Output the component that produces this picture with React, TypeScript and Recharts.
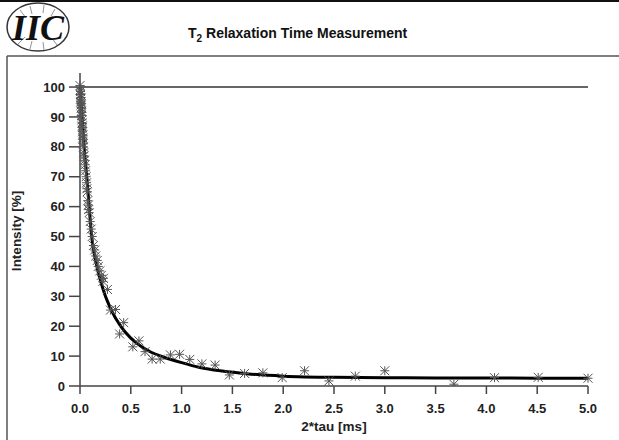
import React from "react";
import { ComposedChart, Scatter, Line, XAxis, YAxis, ReferenceLine } from "recharts";

// measured echo amplitudes (x = 2*tau in ms, y = intensity in %)
const tauMs = [
  0.0, 0.002, 0.004, 0.005, 0.006, 0.008, 0.009, 0.01, 0.012, 0.013, 0.014, 0.016,
  0.018, 0.019, 0.02, 0.022, 0.024, 0.025, 0.027, 0.028, 0.03, 0.032, 0.034, 0.036,
  0.038, 0.045, 0.05, 0.055, 0.06, 0.065, 0.068, 0.072, 0.077, 0.082, 0.085, 0.09,
  0.1, 0.11, 0.12, 0.132, 0.145, 0.155, 0.17, 0.18, 0.195, 0.21, 0.225, 0.23, 0.27,
  0.3, 0.35, 0.39, 0.43, 0.52, 0.58, 0.64, 0.71, 0.79, 0.89, 0.98, 1.08, 1.2, 1.33,
  1.47, 1.62, 1.8, 1.99, 2.21, 2.45, 2.71, 3.0, 3.68, 4.08, 4.51, 5.0,
];
const intensity = [
  100.5, 99, 97.5, 98.5, 96, 95, 96.5, 94, 93, 94.5, 92, 90.5,
  91.5, 89, 88, 87, 86.5, 85, 84, 83, 82.5, 81, 80, 78,
  77, 75.5, 74, 72, 70, 68, 66, 65, 62, 60.5, 59, 58,
  55, 52.5, 50, 47, 45.5, 43.5, 42, 40, 38.5, 37, 35, 36, 32.3,
  25.4, 25.6, 17.4, 21.2, 13.1, 15.1, 11.5, 9.0, 9.0, 10.4, 10.6, 8.9, 7.4, 7.0,
  3.7, 4.2, 4.4, 2.8, 5.1, 1.7, 3.3, 5.1, 0.6, 2.8, 2.9, 2.6,
];

// fitted decay curve
const fitTau = [
  0, 0.02, 0.04, 0.066, 0.09, 0.115, 0.16, 0.2, 0.24, 0.3, 0.4, 0.5, 0.6, 0.7,
  0.82, 1.0, 1.18, 1.4, 1.64, 2.0, 2.5, 3.0, 3.5, 4.0, 4.5, 5.0,
];
const fitIntensity = [
  100, 90, 80, 70, 60, 50, 41, 35.5, 31, 26, 20, 16, 13.3, 11.3,
  9.7, 7.8, 6.2, 5.0, 4.1, 3.3, 2.9, 2.8, 2.7, 2.7, 2.6, 2.6,
];

const xTicks = [0, 0.5, 1, 1.5, 2, 2.5, 3, 3.5, 4, 4.5, 5];
const yTicks = [0, 10, 20, 30, 40, 50, 60, 70, 80, 90, 100];

const points = tauMs.map((x, i) => ({ x, v: intensity[i] }));
const fit = fitTau.map((x, i) => ({ x, v: fitIntensity[i] }));

const FONT = '"Liberation Sans", Arial, sans-serif';
const AXIS = "#444";

function Asterisk(props: any) {
  const { cx, cy } = props;
  if (cx == null || cy == null) return null;
  const r = 4.5;
  return (
    <g stroke="#555" strokeWidth={1}>
      <line x1={cx - r} y1={cy - r} x2={cx + r} y2={cy + r} />
      <line x1={cx - r} y1={cy + r} x2={cx + r} y2={cy - r} />
      <line x1={cx - r} y1={cy} x2={cx + r} y2={cy} />
      <line x1={cx} y1={cy - r} x2={cx} y2={cy + r} />
    </g>
  );
}

function Logo() {
  return (
    <g>
      <ellipse cx={38} cy={27} rx={31} ry={24} fill="none" stroke="#333" strokeWidth={1.5} />
      <g stroke="#777" strokeWidth={0.8}>
        <line x1={20} y1={10} x2={26} y2={18} />
        <line x1={30} y1={6} x2={32} y2={14} />
        <line x1={44} y1={5} x2={43} y2={13} />
        <line x1={55} y1={9} x2={51} y2={16} />
        <line x1={18} y1={44} x2={25} y2={37} />
        <line x1={30} y1={49} x2={32} y2={41} />
        <line x1={44} y1={50} x2={43} y2={42} />
        <line x1={57} y1={45} x2={52} y2={38} />
      </g>
      <text
        x={38}
        y={40}
        textAnchor="middle"
        fontFamily='"Liberation Serif", "DejaVu Serif", serif'
        fontStyle="italic"
        fontWeight="bold"
        fontSize={36}
        fill="#111"
      >
        IIC
      </text>
    </g>
  );
}

export default function App() {
  return (
    <div style={{ position: "absolute", left: 0, top: 0, width: 619, height: 440, background: "#fff" }}>
      <ComposedChart
        width={619}
        height={440}
        margin={{ top: 73, right: 31, bottom: 0, left: 0 }}
        style={{ fontFamily: FONT }}
      >
        <XAxis
          dataKey="x"
          type="number"
          domain={[0, 5]}
          ticks={xTicks}
          tickFormatter={(v: number) => v.toFixed(1)}
          tickSize={8}
          tickMargin={10}
          height={54}
          axisLine={{ stroke: AXIS, strokeWidth: 1.5 }}
          tickLine={{ stroke: AXIS, strokeWidth: 1.5 }}
          tick={{ fontSize: 13, fontWeight: "bold", fill: "#222", fontFamily: FONT }}
          label={{
            value: "2*tau [ms]",
            position: "insideBottom",
            offset: 9,
            style: { fontSize: 13.5, fontWeight: "bold", fill: "#222", fontFamily: FONT },
          }}
        />
        <YAxis
          type="number"
          domain={[0, 104.7]}
          ticks={yTicks}
          width={80}
          tickSize={11}
          tickMargin={4}
          allowDataOverflow
          axisLine={{ stroke: AXIS, strokeWidth: 1.5 }}
          tickLine={{ stroke: AXIS, strokeWidth: 1.5 }}
          tick={{ fontSize: 13, fontWeight: "bold", fill: "#222", fontFamily: FONT }}
        />
        <ReferenceLine y={100} stroke="#333" strokeWidth={1.5} />
        <Scatter data={points} dataKey="v" shape={<Asterisk />} isAnimationActive={false} />
        <Line
          data={fit}
          dataKey="v"
          type="monotone"
          stroke="#000"
          strokeWidth={3}
          dot={false}
          activeDot={false}
          isAnimationActive={false}
        />
      </ComposedChart>
      <svg
        width={619}
        height={440}
        style={{ position: "absolute", left: 0, top: 0, pointerEvents: "none" }}
      >
        <line x1={0} y1={1} x2={619} y2={1} stroke="#111" strokeWidth={2} />
        <Logo />
        <text x={188} y={38} fontFamily={FONT} fontWeight="bold" fontSize={14} fill="#111">
          T
          <tspan fontSize={10} dy={4}>2</tspan>
          <tspan dy={-4}> Relaxation Time Measurement</tspan>
        </text>
        <line x1={7} y1={56} x2={619} y2={56} stroke="#555" strokeWidth={1.5} />
        <line x1={7} y1={56} x2={7} y2={440} stroke="#555" strokeWidth={1.5} />
        <text
          x={21}
          y={231}
          transform="rotate(-90 21 231)"
          textAnchor="middle"
          fontFamily={FONT}
          fontWeight="bold"
          fontSize={13.5}
          fill="#222"
        >
          Intensity [%]
        </text>
      </svg>
    </div>
  );
}
